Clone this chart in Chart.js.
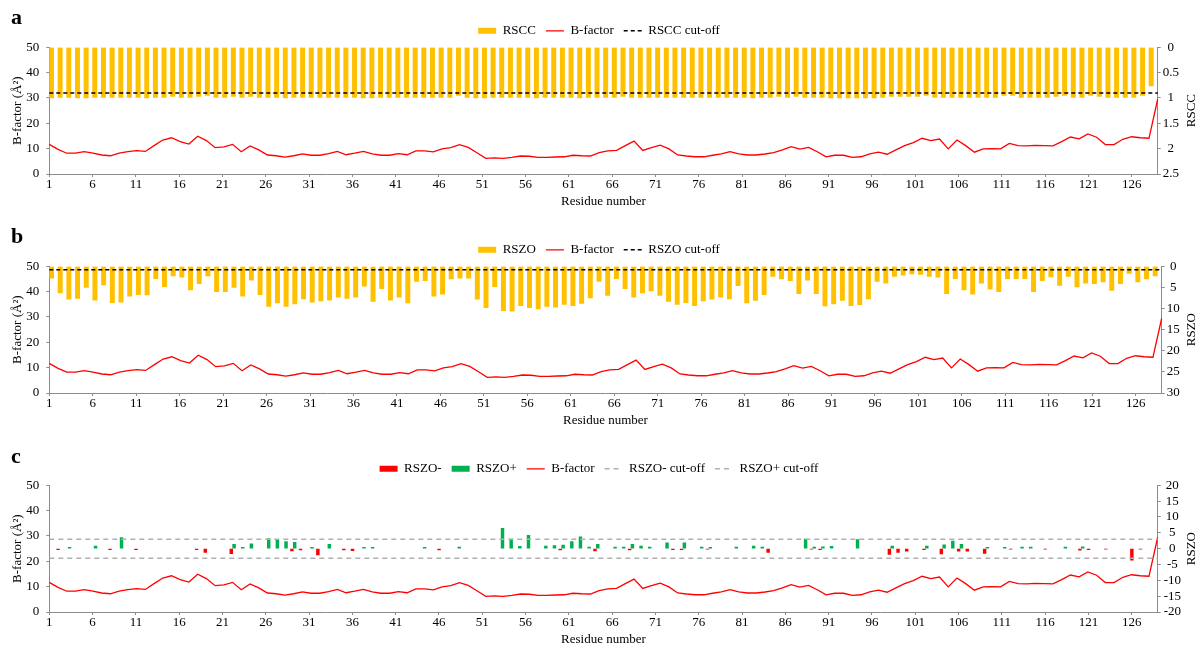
<!DOCTYPE html>
<html>
<head>
<meta charset="utf-8">
<script src="https://cdn.jsdelivr.net/npm/chart.js@4.4.0/dist/chart.umd.min.js"></script>
<style>
  body { margin: 0; background: #fff; width: 1198px; height: 646px; position: relative; overflow: hidden; }
  .panel { position: absolute; left: 0; width: 1198px; height: 215px; }
  .panel canvas { display: block; }
  .tag { position: absolute; left: 11px; font: bold 22px/22px 'Liberation Serif', serif; color: #000; }
</style>
</head>
<body>
<div class="panel" style="top:0"><canvas id="chartA" width="1198" height="215"></canvas></div>
<div class="panel" style="top:219px"><canvas id="chartB" width="1198" height="215"></canvas></div>
<div class="panel" style="top:438px"><canvas id="chartC" width="1198" height="215"></canvas></div>
<div class="tag" style="top:6px">a</div>
<div class="tag" style="top:225px">b</div>
<div class="tag" style="top:445px">c</div>
<script>
// residue numbers 1..128 and the labelled ones on the x axis
const residues = Array.from({ length: 128 }, (_, i) => i + 1);
const tickResidues = residues.filter(r => r % 5 === 1);

// B-factor (A^2), same curve in all three panels
const bFactor = [
  11.7, 9.7, 8.2, 8.2, 8.8, 8.2, 7.5, 7.2, 8.2, 8.8,
  9.2, 8.9, 11.2, 13.4, 14.3, 12.8, 11.8, 14.9, 13.2, 10.4,
  10.7, 11.7, 8.8, 11.1, 9.5, 7.5, 7.2, 6.7, 7.2, 7.9,
  7.4, 7.4, 8.0, 8.9, 7.6, 8.2, 8.9, 7.9, 7.4, 7.4,
  8.0, 7.6, 9.1, 9.1, 8.7, 9.9, 10.4, 11.6, 10.5, 8.4,
  6.2, 6.4, 6.2, 6.6, 7.1, 7.0, 6.6, 6.6, 6.7, 6.8,
  7.4, 7.2, 7.1, 8.4, 9.1, 9.3, 11.2, 13.0, 9.3, 10.4,
  11.4, 9.9, 7.5, 7.1, 6.8, 6.8, 7.4, 7.9, 8.8, 7.9,
  7.5, 7.5, 7.9, 8.4, 9.5, 10.8, 9.8, 10.5, 8.8, 6.8,
  7.4, 7.4, 6.6, 6.8, 7.9, 8.6, 7.8, 9.5, 11.2, 12.4,
  14.1, 13.2, 13.8, 9.9, 13.4, 11.2, 8.6, 9.9, 10.0, 9.9,
  12.1, 11.2, 11.1, 11.3, 11.2, 11.1, 12.8, 14.6, 13.9, 15.8,
  14.5, 11.6, 11.6, 13.7, 14.7, 14.3, 14.1, 29.5
];

// panel a: real-space correlation coefficient
const rscc = [
  1.0, 0.99, 0.99, 1.0, 1.0, 0.99, 0.99, 0.99, 0.99, 0.99,
  0.99, 1.0, 0.99, 0.99, 0.97, 0.99, 0.99, 0.97, 0.95, 0.99,
  0.99, 0.97, 0.99, 0.97, 0.99, 0.99, 0.99, 1.0, 0.99, 0.99,
  0.99, 0.99, 0.99, 0.99, 0.99, 0.99, 1.0, 1.0, 0.99, 0.99,
  0.99, 0.99, 0.99, 0.99, 0.99, 0.99, 0.99, 0.95, 0.99, 1.0,
  1.0, 0.99, 0.99, 0.99, 0.99, 0.99, 1.0, 0.99, 0.99, 0.99,
  0.99, 1.0, 0.99, 0.99, 0.99, 0.99, 0.97, 0.99, 0.99, 0.99,
  0.99, 0.99, 0.99, 0.99, 0.99, 0.99, 0.99, 0.99, 0.99, 0.99,
  0.99, 1.0, 0.99, 0.99, 0.97, 0.99, 0.97, 0.99, 0.99, 0.99,
  1.0, 1.0, 1.0, 1.0, 1.0, 1.0, 0.99, 0.97, 0.97, 0.97,
  0.97, 0.95, 0.99, 0.99, 0.99, 0.99, 0.99, 0.99, 0.99, 0.99,
  0.95, 0.95, 0.99, 0.99, 0.99, 0.99, 0.97, 0.95, 0.99, 0.99,
  0.95, 0.97, 0.99, 0.99, 0.99, 0.99, 0.95, 0.76
];
const rsccCutoff = 0.9;

// panel b: RSZO
const rszo = [
  2.8, 6.3, 7.8, 7.6, 5.0, 8.0, 4.4, 8.6, 8.5, 7.1,
  6.7, 6.8, 2.9, 4.8, 2.3, 2.6, 5.6, 4.1, 2.3, 6.0,
  6.0, 5.0, 7.1, 3.3, 6.7, 9.5, 8.7, 9.5, 8.9, 7.7,
  8.5, 8.2, 8.0, 7.3, 7.6, 7.3, 4.7, 8.3, 5.3, 8.0,
  7.3, 8.7, 3.6, 3.4, 7.1, 6.6, 3.0, 2.8, 2.8, 7.8,
  9.8, 4.8, 10.5, 10.6, 9.3, 9.8, 10.1, 9.5, 9.7, 9.0,
  9.3, 8.8, 7.5, 3.6, 6.9, 2.9, 5.3, 7.3, 6.3, 5.8,
  6.9, 8.3, 9.0, 8.6, 9.3, 8.2, 7.8, 7.3, 7.7, 4.6,
  8.7, 8.1, 6.7, 2.4, 3.0, 3.4, 6.5, 3.3, 6.5, 9.4,
  8.9, 8.1, 9.3, 9.1, 7.7, 3.6, 4.0, 2.4, 2.1, 1.8,
  1.9, 2.4, 2.6, 6.5, 2.9, 5.6, 6.6, 4.0, 5.4, 6.0,
  2.9, 2.9, 2.9, 6.0, 3.4, 2.5, 4.5, 2.4, 4.9, 4.0,
  4.1, 3.7, 5.7, 4.1, 1.7, 3.7, 3.0, 2.3
];
const rszoCutoff = 0.8;

// panel c: RSZO- and RSZO+ (only residues that have a bar)
const rszoNegResidues = [2, 8, 11, 18, 19, 22, 29, 30, 32, 35, 36, 46, 60, 64, 68, 73, 74, 77, 84,
  89, 90, 98, 99, 100, 102, 104, 106, 107, 109, 112, 116, 120, 121, 123, 126, 127];
const rszoNegValues = [-0.3, -0.3, -0.3, -0.3, -1.2, -1.6, -0.7, -0.4, -2.0, -0.4, -0.6, -0.4, -0.4, -0.7, -0.4, -0.3, -0.3, -0.2, -1.2,
  -0.2, -0.3, -1.8, -1.2, -0.8, -0.3, -1.7, -0.8, -0.8, -1.5, -0.2, -0.2, -0.5, -0.3, -0.2, -3.6, -0.2];
const rszoPosResidues = [3, 6, 9, 22, 23, 24, 26, 27, 28, 29, 31, 33, 37, 38, 44, 48, 53, 54, 55, 56,
  58, 59, 60, 61, 62, 63, 64, 66, 67, 68, 69, 70, 72, 74, 76, 77, 80, 82, 83,
  88, 89, 90, 91, 94, 98, 102, 104, 105, 106, 109, 111, 113, 114, 118, 120];
const rszoPosValues = [0.4, 0.8, 3.5, 1.4, 0.4, 1.5, 3.2, 2.7, 2.2, 2.0, 0.4, 1.4, 0.4, 0.4, 0.4, 0.5, 6.4, 3.0, 0.7, 4.2,
  0.8, 1.0, 1.1, 2.2, 3.7, 0.5, 1.4, 0.5, 0.5, 1.4, 0.8, 0.5, 1.8, 1.8, 0.5, 0.4, 0.5, 0.8, 0.5,
  3.0, 0.5, 0.6, 0.7, 2.9, 0.8, 0.8, 1.2, 2.4, 1.4, 0.4, 0.4, 0.5, 0.5, 0.5, 0.6];
const rszoMinusCutoff = -3;
const rszoPlusCutoff = 3;

const serif = "'Liberation Serif', 'Times New Roman', serif";
Chart.defaults.font.family = serif;
Chart.defaults.font.size = 13;
Chart.defaults.color = '#000';

const axisGray = '#8c8c8c';
const yellow = '#FFC000';
const red = '#FF0000';
const green = '#00B050';

function spread(list, values) {
  return residues.map(r => {
    const k = list.indexOf(r);
    return k < 0 ? null : values[k];
  });
}

// secondary axis title, written bottom-to-top like the left one
const rightTitle = {
  id: 'rightTitle',
  afterDraw(chart, args, opts) {
    const { ctx, chartArea } = chart;
    ctx.save();
    ctx.translate(chart.width - 6, (chartArea.top + chartArea.bottom) / 2);
    ctx.rotate(-Math.PI / 2);
    ctx.font = '13px ' + serif;
    ctx.fillStyle = '#000';
    ctx.textAlign = 'center';
    ctx.textBaseline = 'middle';
    ctx.fillText(opts.text, 0, 0);
    ctx.restore();
  }
};

function barSet(label, data, color, thickness) {
  return { type: 'bar', label, data, xAxisID: 'xb', yAxisID: 'y1', backgroundColor: color,
    borderWidth: 0, barThickness: thickness, order: 3 };
}
function lineSet(label, data, color, axis, dash, width) {
  return { type: 'line', label, data, xAxisID: 'xl', yAxisID: axis, borderColor: color,
    borderWidth: width, borderDash: dash, pointRadius: 0, tension: 0, fill: false,
    order: dash.length ? 1 : 2 };
}

function makePanel(id, cfg) {
  return new Chart(document.getElementById(id).getContext('2d'), {
    type: 'bar',
    data: { labels: residues, datasets: cfg.datasets },
    options: {
      responsive: false,
      animation: false,
      layout: { padding: { top: 14.3, bottom: 5.5, left: 0, right: 0 } },
      plugins: {
        tooltip: { enabled: false },
        rightTitle: { text: cfg.rightTitle },
        legend: {
          position: 'top',
          labels: {
            usePointStyle: true, pointStyleWidth: 18, boxHeight: 6, padding: 10,
            sort: (a, b) => a.datasetIndex - b.datasetIndex,
            generateLabels: chart => chart.data.datasets.map((ds, i) => ({
              text: ds.label, datasetIndex: i, hidden: false, fontColor: '#000',
              fillStyle: ds.backgroundColor || ds.borderColor,
              strokeStyle: ds.borderColor || ds.backgroundColor,
              lineWidth: ds.type === 'line' ? ds.borderWidth : 0,
              lineDash: ds.borderDash || [],
              pointStyle: ds.type === 'line' ? 'line' : 'rect'
            }))
          }
        }
      },
      scales: {
        xb: { type: 'category', offset: true, display: false },
        xl: { type: 'category', offset: false, display: false },
        x: {
          type: 'linear', position: 'bottom', min: 1, max: 129, offset: false,
          afterBuildTicks: s => { s.ticks = tickResidues.map(v => ({ value: v })); },
          afterFit: s => { s.height = 35.5; },
          ticks: { autoSkip: false, maxRotation: 0, padding: 0 },
          grid: { drawOnChartArea: false, offset: false, tickLength: 3, color: axisGray },
          border: { color: axisGray },
          title: { display: true, text: 'Residue number', padding: 0 }
        },
        y: {
          position: 'left', min: 0, max: 50,
          afterFit: s => { s.width = 49.3; },
          ticks: { stepSize: 10, padding: 7 },
          grid: { drawOnChartArea: false, tickLength: 3, color: axisGray },
          border: { color: axisGray },
          title: { display: true, text: 'B-factor (Å²)', padding: { top: 10, bottom: 0 } }
        },
        y1: {
          position: 'right', min: cfg.rMin, max: cfg.rMax, reverse: cfg.reverse, beginAtZero: false,
          afterFit: s => { s.width = cfg.rWidth; },
          ticks: { stepSize: cfg.rStep, autoSkip: false, crossAlign: 'center', padding: cfg.rPad,
            callback: v => String(Math.round(v * 10) / 10) },
          grid: { drawOnChartArea: false, tickLength: 3, color: axisGray },
          border: { color: axisGray }
        }
      }
    },
    plugins: [rightTitle]
  });
}

makePanel('chartA', {
  rightTitle: 'RSCC', rMin: 0, rMax: 2.5, rStep: 0.5, reverse: true, rWidth: 40.3, rPad: 2,
  datasets: [
    barSet('RSCC', rscc, yellow, 4.3),
    lineSet('B-factor', bFactor, red, 'y', [], 1.3),
    lineSet('RSCC cut-off', residues.map(() => rsccCutoff), '#000', 'y1', [4, 3], 1.5)
  ]
});

makePanel('chartB', {
  rightTitle: 'RSZO', rMin: 0, rMax: 30, rStep: 5, reverse: true, rWidth: 36.3, rPad: 2,
  datasets: [
    barSet('RSZO', rszo, yellow, 4.3),
    lineSet('B-factor', bFactor, red, 'y', [], 1.3),
    lineSet('RSZO cut-off', residues.map(() => rszoCutoff), '#000', 'y1', [4, 3], 1.5)
  ]
});

makePanel('chartC', {
  rightTitle: 'RSZO', rMin: -20, rMax: 20, rStep: 5, reverse: false, rWidth: 40.3, rPad: 3,
  datasets: [
    barSet('RSZO-', spread(rszoNegResidues, rszoNegValues), red, 2.8),
    barSet('RSZO+', spread(rszoPosResidues, rszoPosValues), green, 2.8),
    lineSet('B-factor', bFactor, red, 'y', [], 1.3),
    lineSet('RSZO- cut-off', residues.map(() => rszoMinusCutoff), '#b0b0b0', 'y1', [5, 4], 1.5),
    lineSet('RSZO+ cut-off', residues.map(() => rszoPlusCutoff), '#b0b0b0', 'y1', [5, 4], 1.5)
  ]
});
</script>
</body>
</html>
